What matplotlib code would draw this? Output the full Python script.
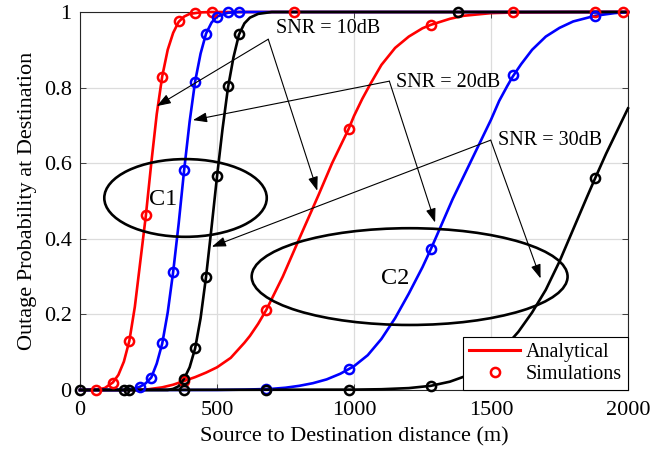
import matplotlib
matplotlib.use("Agg")
import matplotlib.pyplot as plt
from matplotlib.patches import Ellipse
from matplotlib.lines import Line2D

plt.rcParams['font.family'] = ['Liberation Serif', 'DejaVu Serif']
plt.rcParams['mathtext.fontset'] = 'stix'

# ---------------- data ----------------
# analytical curves, group C1
red_c1_x = [0, 60, 90, 120, 140, 160, 180, 200, 220, 240, 260, 280, 300, 320, 340, 360, 380, 400, 440, 480, 600, 2000]
red_c1_y = [0, 0.001, 0.005, 0.02, 0.04, 0.075, 0.13, 0.22, 0.34, 0.46, 0.6, 0.73, 0.83, 0.9, 0.945, 0.974, 0.988, 0.995, 0.999, 1, 1, 1]
blue_c1_x = [0, 160, 200, 220, 240, 260, 280, 300, 320, 340, 360, 380, 400, 420, 440, 460, 480, 500, 540, 580, 2000]
blue_c1_y = [0, 0, 0.004, 0.009, 0.018, 0.033, 0.07, 0.123, 0.205, 0.313, 0.44, 0.582, 0.71, 0.816, 0.89, 0.943, 0.972, 0.988, 0.998, 1, 1]
black_c1_x = [0, 320, 340, 360, 380, 400, 420, 440, 460, 480, 500, 520, 540, 560, 580, 600, 620, 650, 700, 2000]
black_c1_y = [0, 0, 0.003, 0.01, 0.03, 0.06, 0.11, 0.19, 0.30, 0.43, 0.565, 0.69, 0.80, 0.88, 0.94, 0.97, 0.985, 0.995, 1, 1]

# analytical curves, group C2
red_c2_x = [0, 200, 250, 300, 340, 380, 420, 460, 500, 550, 600, 620, 650, 680, 740, 800, 870, 920, 980, 1000, 1030,
            1060, 1100, 1150, 1200, 1250, 1280, 1350, 1400, 1500, 1600, 1800, 2000]
red_c2_y = [0, 0, 0.002, 0.007, 0.014, 0.024, 0.034, 0.046, 0.06, 0.085, 0.125, 0.143, 0.175, 0.212, 0.3, 0.4, 0.515, 0.6,
            0.69, 0.725, 0.77, 0.81, 0.86, 0.905, 0.935, 0.957, 0.966, 0.982, 0.99, 0.997, 0.999, 1, 1]
blue_c2_x = [0, 500, 600, 700, 750, 800, 850, 900, 950, 980, 1000, 1050, 1100, 1150, 1200, 1250, 1280, 1300, 1330, 1360,
             1400, 1430, 1460, 1500, 1530, 1560, 1580, 1610, 1650, 1700, 1750, 1800, 1880, 1950, 2000]
blue_c2_y = [0, 0, 0.001, 0.003, 0.006, 0.011, 0.018, 0.028, 0.043, 0.055, 0.063, 0.092, 0.135, 0.19, 0.255, 0.325, 0.372,
             0.405, 0.455, 0.505, 0.565, 0.61, 0.655, 0.715, 0.765, 0.805, 0.83, 0.862, 0.9, 0.935, 0.958, 0.975, 0.99,
             0.997, 1]
black_c2_x = [0, 1000, 1100, 1200, 1280, 1350, 1400, 1450, 1500, 1550, 1600, 1650, 1700, 1750, 1800, 1850, 1880, 1920, 1960, 2000]
black_c2_y = [0, 0.001, 0.002, 0.005, 0.011, 0.022, 0.035, 0.055, 0.08, 0.113, 0.154, 0.205, 0.265, 0.34, 0.425, 0.51, 0.56, 0.625, 0.685, 0.745]

# simulation points
red_sim_x = [60, 120, 180, 240, 300, 360, 420, 480, 780, 380, 680, 980, 1280, 1580, 1880, 1980]
red_sim_y = [0, 0.018, 0.13, 0.463, 0.827, 0.975, 0.997, 1.0, 1.0, 0.024, 0.212, 0.69, 0.966, 1.0, 1.0, 1.0]
blue_sim_x = [220, 260, 300, 340, 380, 420, 460, 500, 540, 580, 680, 980, 1280, 1580, 1880]
blue_sim_y = [0.009, 0.033, 0.123, 0.313, 0.582, 0.816, 0.943, 0.988, 0.999, 1.0, 0.002, 0.055, 0.372, 0.833, 0.99]
black_sim_x = [160, 180, 380, 420, 460, 500, 540, 580, 1380, 0, 380, 680, 980, 1280, 1880]
black_sim_y = [0, 0, 0.03, 0.11, 0.30, 0.565, 0.803, 0.941, 1.0, 0, 0, 0, 0, 0.011, 0.56]

x_ticks = [0, 500, 1000, 1500, 2000]
y_ticks = [0, 0.2, 0.4, 0.6, 0.8, 1]
y_tick_labels = ['0', '0.2', '0.4', '0.6', '0.8', '1']

# ---------------- figure ----------------
fig = plt.figure(figsize=(6.67, 4.58), dpi=100)
ax = fig.add_axes([0.12, 0.1485, 0.8215, 0.8253])

lw = 1.9
ms = 6.6
mew = 1.8
for xs, ys, c in [(red_c1_x, red_c1_y, 'red'), (red_c2_x, red_c2_y, 'red'),
                  (blue_c1_x, blue_c1_y, 'blue'), (blue_c2_x, blue_c2_y, 'blue'),
                  (black_c1_x, black_c1_y, 'black'), (black_c2_x, black_c2_y, 'black')]:
    ax.plot(xs, ys, color=c, lw=lw, solid_joinstyle='round', zorder=3, clip_on=False)

for xs, ys, c in [(red_sim_x, red_sim_y, 'red'), (blue_sim_x, blue_sim_y, 'blue'),
                  (black_sim_x, black_sim_y, 'black')]:
    ax.plot(xs, ys, linestyle='none', marker='o', markerfacecolor='none',
            markeredgecolor=c, markersize=ms, markeredgewidth=mew, zorder=4, clip_on=False)

# ellipses
ax.add_patch(Ellipse((385, 0.508), 593, 0.2056, fill=False, edgecolor='black', lw=1.9, zorder=5))
ax.add_patch(Ellipse((1203, 0.300), 1153, 0.256, fill=False, edgecolor='black', lw=1.9, zorder=5))
ax.text(304, 0.505, 'C1', fontsize=17.5, ha='center', va='center', zorder=6)
ax.text(1150, 0.296, 'C2', fontsize=17.5, ha='center', va='center', zorder=6)

# annotations
arrow = dict(arrowstyle='-|>,head_length=0.85,head_width=0.3', lw=0.8, color='black',
             shrinkA=0, shrinkB=0)
ax.text(715, 0.956, 'SNR = 10dB', fontsize=14.5, ha='left', va='center', zorder=6)
ax.annotate('', xy=(280, 0.751), xytext=(687, 0.928), arrowprops=arrow, zorder=6)
ax.annotate('', xy=(866, 0.527), xytext=(687, 0.928), arrowprops=arrow, zorder=6)
ax.text(1153, 0.813, 'SNR = 20dB', fontsize=14.5, ha='left', va='center', zorder=6)
ax.annotate('', xy=(412, 0.714), xytext=(1129, 0.817), arrowprops=arrow, zorder=6)
ax.annotate('', xy=(1296, 0.443), xytext=(1129, 0.817), arrowprops=arrow, zorder=6)
ax.text(1527, 0.659, 'SNR = 30dB', fontsize=14.5, ha='left', va='center', zorder=6)
ax.annotate('', xy=(481, 0.379), xytext=(1499, 0.661), arrowprops=arrow, zorder=6)
ax.annotate('', xy=(1681, 0.295), xytext=(1499, 0.661), arrowprops=arrow, zorder=6)

ax.set_xlim(0, 2000)
ax.set_ylim(0, 1)
ax.set_xticks(x_ticks)
ax.set_yticks(y_ticks)
ax.set_yticklabels(y_tick_labels)
ax.tick_params(direction='in', top=True, right=True, labelsize=16, length=4,
               width=0.6, colors='#262626')
ax.tick_params(axis='x', pad=8)
ax.tick_params(axis='y', pad=6)
for lab in ax.get_xticklabels() + ax.get_yticklabels():
    lab.set_color('black')
ax.grid(True, color='#dcdcdc', lw=0.9)
ax.set_axisbelow(True)
for s in ax.spines.values():
    s.set_color('#262626')
    s.set_linewidth(0.8)

ax.set_xlabel('Source to Destination distance (m)', fontsize=16, labelpad=5)
ax.set_ylabel('Outage Probability at Destination', fontsize=16, labelpad=5)

handles = [Line2D([], [], color='red', lw=2.2),
           Line2D([], [], color='red', linestyle='none', marker='o', markerfacecolor='none',
                  markeredgecolor='red', markersize=ms, markeredgewidth=mew)]
leg = ax.legend(handles, ['Analytical', 'Simulations'], loc='lower right', fontsize=14.5,
                borderaxespad=0, fancybox=False, edgecolor='black', framealpha=1,
                handlelength=2.5, handletextpad=0.3, borderpad=0.3, labelspacing=0.15)
leg.get_frame().set_linewidth(0.8)
leg.set_zorder(10)

fig.savefig('out.png', dpi=100)
